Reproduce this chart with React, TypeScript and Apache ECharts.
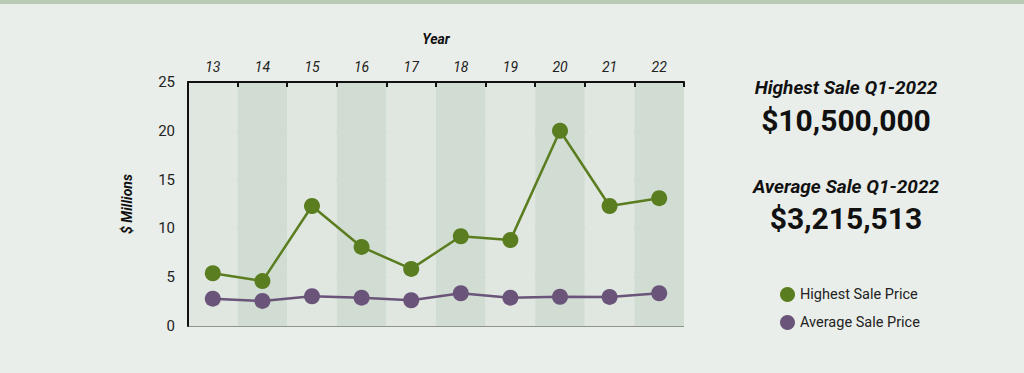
import React, { useEffect, useRef } from "react";
import * as echarts from "echarts";

const years = ["13", "14", "15", "16", "17", "18", "19", "20", "21", "22"];
const highestSale = [5.4, 4.6, 12.3, 8.1, 5.85, 9.2, 8.8, 20.0, 12.3, 13.1];
const averageSale = [2.8, 2.57, 3.05, 2.9, 2.64, 3.36, 2.9, 3.0, 2.98, 3.36];
const yTicks = { min: 0, max: 25, interval: 5 };
const highlightTitle1 = "Highest Sale Q1-2022";
const highlightValue1 = "$10,500,000";
const highlightTitle2 = "Average Sale Q1-2022";
const highlightValue2 = "$3,215,513";

const GREEN = "#5a7d1f";
const PURPLE = "#6a5479";
const FONT = "Roboto";

export default function App() {
  const ref = useRef<HTMLDivElement>(null);
  useEffect(() => {
    document.body.style.margin = "0";
    const chart = echarts.init(ref.current!, null, { renderer: "svg" });
    chart.setOption({
      animation: false,
      backgroundColor: "#eaeeea",
      textStyle: { fontFamily: FONT },
      grid: { left: 188, right: 340, top: 82, bottom: 47, containLabel: false },
      graphic: [
        { type: "rect", shape: { x: 0, y: 0, width: 1024, height: 4 }, style: { fill: "#b6cab4" } },
        {
          type: "text", x: 846, y: 87,
          style: { text: highlightTitle1, font: `italic bold 19px ${FONT}`, fill: "#111", textAlign: "center", textVerticalAlign: "middle" },
        },
        {
          type: "text", x: 846, y: 120,
          style: { text: highlightValue1, font: `bold 30px ${FONT}`, fill: "#111", textAlign: "center", textVerticalAlign: "middle" },
        },
        {
          type: "text", x: 846, y: 186,
          style: { text: highlightTitle2, font: `italic bold 19px ${FONT}`, fill: "#111", textAlign: "center", textVerticalAlign: "middle" },
        },
        {
          type: "text", x: 846, y: 218,
          style: { text: highlightValue2, font: `bold 30px ${FONT}`, fill: "#111", textAlign: "center", textVerticalAlign: "middle" },
        },
      ],
      legend: {
        orient: "vertical",
        left: 775,
        top: 282,
        itemGap: 13,
        itemWidth: 15,
        itemHeight: 15,
        icon: "circle",
        textStyle: { fontFamily: FONT, fontSize: 14.5, color: "#222" },
        data: ["Highest Sale Price", "Average Sale Price"],
      },
      xAxis: {
        type: "category",
        position: "top",
        data: years,
        boundaryGap: true,
        name: "Year",
        nameLocation: "middle",
        nameGap: 36,
        nameTextStyle: { fontFamily: FONT, fontStyle: "italic", fontWeight: "bold", fontSize: 14, color: "#111" },
        axisLine: { show: true, onZero: false, lineStyle: { color: "#111", width: 2 } },
        axisTick: { show: true, inside: true, length: 5, lineStyle: { color: "#111", width: 2 } },
        axisLabel: { fontFamily: FONT, fontStyle: "italic", fontSize: 14, color: "#222", margin: 8 },
        splitLine: { show: false },
        splitArea: { show: true, areaStyle: { color: ["#e0e6e0", "#d1dcd3"] } },
      },
      yAxis: {
        type: "value",
        min: yTicks.min,
        max: yTicks.max,
        interval: yTicks.interval,
        name: "$ Millions",
        nameLocation: "middle",
        nameRotate: 90,
        nameGap: 54,
        nameTextStyle: { fontFamily: FONT, fontStyle: "italic", fontWeight: "bold", fontSize: 14, color: "#111" },
        axisLine: { show: true, onZero: false, lineStyle: { color: "#111", width: 2 } },
        axisTick: { show: false },
        axisLabel: { fontFamily: FONT, fontSize: 15, color: "#222", margin: 13 },
        splitLine: { show: true, lineStyle: { color: "#8f948f", width: 1 } },
      },
      series: [
        {
          name: "Highest Sale Price",
          type: "line",
          data: highestSale,
          symbol: "circle",
          symbolSize: 16,
          itemStyle: { color: GREEN },
          lineStyle: { color: GREEN, width: 2.5 },
          z: 3,
        },
        {
          name: "Average Sale Price",
          type: "line",
          data: averageSale,
          symbol: "circle",
          symbolSize: 16,
          itemStyle: { color: PURPLE },
          lineStyle: { color: PURPLE, width: 2.5 },
          z: 3,
        },
      ],
    });
    return () => chart.dispose();
  }, []);
  return <div ref={ref} style={{ width: 1024, height: 373 }} />;
}
